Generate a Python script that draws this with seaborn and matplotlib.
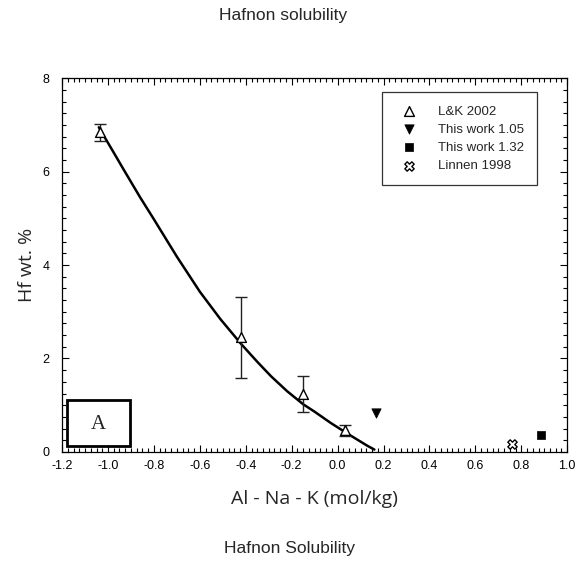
import numpy as np
import pandas as pd
import matplotlib
matplotlib.use("Agg")
import matplotlib.pyplot as plt
from matplotlib.ticker import MultipleLocator, FormatStrFormatter
from matplotlib.patches import Rectangle
import seaborn as sns

# ---- data ----
lk_x = [-1.034, -0.421, -0.151, 0.033]
lk_y = [6.84, 2.45, 1.24, 0.46]
lk_err = [0.18, 0.86, 0.38, 0.12]

tw105_x = [0.168]
tw105_y = [0.84]

tw132_x = [0.887]
tw132_y = [0.36]

linnen_x = [0.76]
linnen_y = [0.16]

curve_x = [-1.04, -0.98, -0.93, -0.86, -0.80, -0.70, -0.60, -0.51, -0.42, -0.35,
           -0.29, -0.22, -0.15, -0.10, -0.03, 0.04, 0.10, 0.13, 0.16]
curve_y = [6.95, 6.45, 6.03, 5.45, 4.98, 4.18, 3.43, 2.84, 2.31, 1.93,
           1.62, 1.30, 1.02, 0.86, 0.62, 0.40, 0.22, 0.13, 0.05]

x_ticks = [-1.2, -1.0, -0.8, -0.6, -0.4, -0.2, 0.0, 0.2, 0.4, 0.6, 0.8, 1.0]
y_ticks = [0, 2, 4, 6, 8]

sns.set_style("ticks")
plt.rcParams['font.family'] = ['Liberation Sans', 'DejaVu Sans']

fig = plt.figure(figsize=(5.8, 5.67), dpi=100)
ax = fig.add_axes([0.107, 0.203, 0.871, 0.659])

curve_df = pd.DataFrame({"x": curve_x, "y": curve_y})
sns.lineplot(data=curve_df, x="x", y="y", sort=False, color="black", lw=1.8, ax=ax, zorder=2)

ax.errorbar(lk_x, lk_y, yerr=lk_err, fmt='none', ecolor='#222222', elinewidth=1.0,
            capsize=4, capthick=1.0, zorder=3)

sns.scatterplot(x=lk_x, y=lk_y, marker='^', s=50, facecolor='white', edgecolor='black',
                linewidth=1.0, ax=ax, zorder=4, label='L&K 2002')
sns.scatterplot(x=tw105_x, y=tw105_y, marker='v', s=45, color='black', edgecolor='black',
                ax=ax, zorder=4, label='This work 1.05')
sns.scatterplot(x=tw132_x, y=tw132_y, marker='s', s=40, color='black', edgecolor='black',
                ax=ax, zorder=4, label='This work 1.32')
sns.scatterplot(x=linnen_x, y=linnen_y, marker='X', s=45, facecolor='white', edgecolor='black',
                linewidth=1.0, ax=ax, zorder=4, label='Linnen 1998')

ax.set_xlim(-1.2, 1.0)
ax.set_ylim(0, 8)
ax.set_xticks(x_ticks)
ax.set_yticks(y_ticks)
ax.xaxis.set_major_formatter(FormatStrFormatter('%.1f'))
ax.xaxis.set_minor_locator(MultipleLocator(0.025))
ax.yaxis.set_minor_locator(MultipleLocator(0.25))
ax.tick_params(which='both', direction='in', top=True, right=True, colors='black',
               labelsize=9, width=0.8)
ax.tick_params(which='major', length=5)
ax.tick_params(axis='x', which='major', pad=6)
ax.tick_params(axis='y', which='major', pad=9)
ax.tick_params(which='minor', length=3)
for s in ax.spines.values():
    s.set_color('black')
    s.set_linewidth(0.9)

ax.set_xlabel('Al - Na - K (mol/kg)', family=['Open Sans', 'DejaVu Sans'], fontsize=14, labelpad=13)
ax.set_ylabel('Hf wt. %', family=['Open Sans', 'DejaVu Sans'], fontsize=14, labelpad=5)

leg = ax.legend(loc='upper right', bbox_to_anchor=(0.94, 0.963), fontsize=9.5, frameon=True,
                fancybox=False, edgecolor='black', borderpad=1.0, handletextpad=1.2,
                labelspacing=0.45, borderaxespad=0, handlelength=2.0)
leg.get_frame().set_linewidth(0.9)

# "A" label box
ax.add_patch(Rectangle((-1.178, 0.12), 0.272, 1.0, fill=False, edgecolor='black', lw=2.0,
                       zorder=5, clip_on=False))
ax.text(-1.042, 0.58, 'A', family=['Liberation Serif', 'DejaVu Serif'], fontsize=15,
        ha='center', va='center', zorder=6)

fig.text(0.488, 0.972, 'Hafnon solubility', ha='center', va='center', fontsize=12.5)
fig.text(0.5, 0.033, 'Hafnon Solubility', ha='center', va='center', fontsize=12.5)

fig.savefig('out.png', dpi=100)
